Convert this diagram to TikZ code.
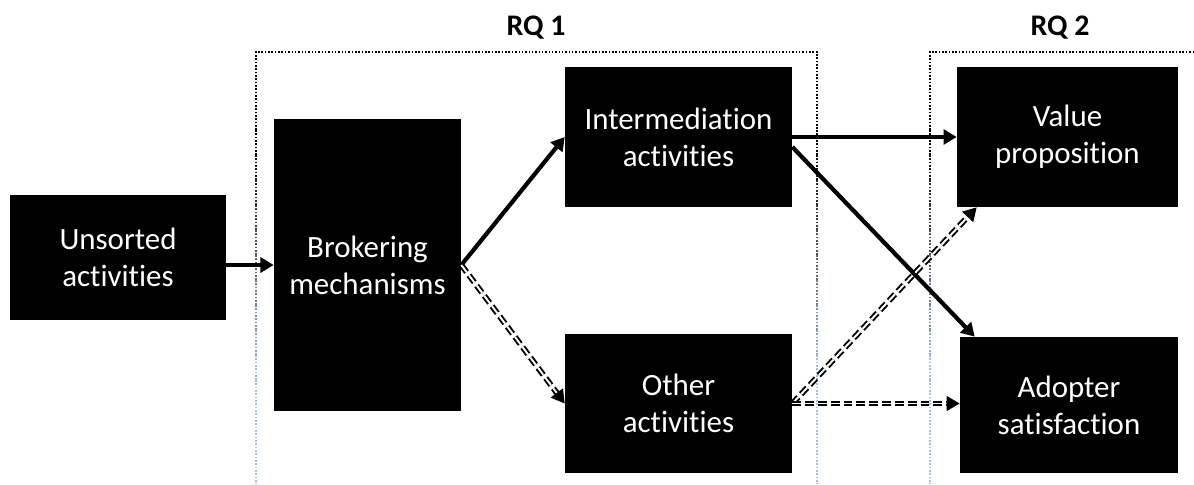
\documentclass[tikz,border=0pt]{standalone}
\usepackage{xcolor}
\usepackage{fontspec}
\setmainfont{Carlito}[Ligatures=NoCommon]
\usepackage{tikz}
\usetikzlibrary{calc, arrows.meta}

\definecolor{rqlight}{RGB}{165,188,228}

\tikzset{
	box/.style={fill=black, text=white, align=center, inner sep=0pt, font=\fontsize{17.6}{21}\selectfont},
	solidarrow/.style={line width=2.4pt, -{Triangle[length=7.5pt,width=8.5pt]}},
	dashedarrow/.style={double, double distance=1.1pt, line width=1.1pt, dash pattern=on 5pt off 2.3pt, -{Triangle[length=7.5pt,width=8.5pt]}},
	rqframe/.style={line width=0.9pt, dash pattern=on 0.9pt off 1pt},
	rqlabel/.style={font=\fontsize{17}{21}\selectfont\bfseries},
}

\begin{document}
\begin{tikzpicture}[x=0.02cm, y=-0.02cm]
		\useasboundingbox (0,0) rectangle (1194,484);
		
		\def\yTOP{52};
		\def\yFADE{130};
		\def\yBOT{484};
		
		% frames of the two research questions
		\draw [rqframe] (256,\yFADE) -- (256,\yTOP) -- (817,\yTOP) -- (817,\yFADE);
		\draw [rqframe] (930,\yFADE) -- (930,\yTOP) -- (1194,\yTOP);
		\foreach \i in {0,...,9} {
			\pgfmathsetmacro{\pct}{100-11*\i}
			\pgfmathsetmacro{\ya}{\yFADE+25*\i}
			\pgfmathsetmacro{\yb}{\yFADE+25*(\i+1)}
			\foreach \x in {256, 817, 930}
				\draw [rqframe, black!\pct!rqlight] (\x,\ya) -- (\x,\yb);
		}
		\foreach \x in {256, 817, 930}
			\draw [rqframe, rqlight] (\x,380) -- (\x,\yBOT);
		
		\node [rqlabel] (rq1) at (536,28) {RQ 1};
		\node [rqlabel] (rq2) at (1060,28) {RQ 2};
		
		\node [box, minimum width=4.32cm, minimum height=2.5cm] (unsorted) at (118,257.5) {Unsorted\\activities};
		\node [box, minimum width=3.74cm, minimum height=5.84cm] (broker) at (367.5,265) {Brokering\\mechanisms};
		\node [box, minimum width=4.54cm, minimum height=2.8cm] (inter) at (678.5,137) {Intermediation\\activities};
		\node [box, minimum width=4.54cm, minimum height=2.78cm] (other) at (678.5,403.5) {Other\\activities};
		\node [box, minimum width=4.42cm, minimum height=2.8cm] (value) at (1067.5,137) {Value\\proposition};
		\node [box, minimum width=4.36cm, minimum height=2.72cm] (adopter) at (1069,405) {Adopter\\satisfaction};
		
		\draw [solidarrow] (unsorted.east |- broker.west) -- (broker.west);
		\draw [solidarrow] (broker.east) -- (inter.west);
		\draw [dashedarrow] (broker.east) -- (other.west);
		\draw [solidarrow] (inter.east) -- (value.west);
		\draw [solidarrow] ([yshift=-0.2cm]inter.east) -- ([xshift=0.3cm]adopter.north west);
		\draw [dashedarrow] (other.east) -- ([xshift=0.4cm]value.south west);
		\draw [dashedarrow] (other.east) -- (other.east -| adopter.west);
	\end{tikzpicture}
\end{document}
